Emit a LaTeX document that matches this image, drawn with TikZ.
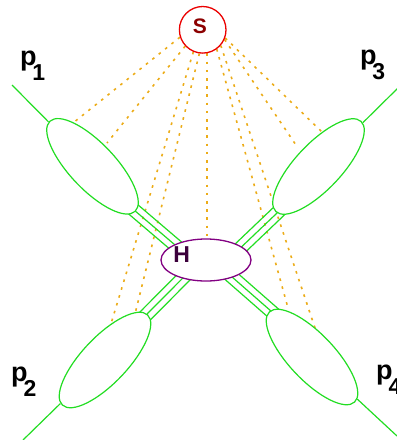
\documentclass[tikz,border=0pt]{standalone}
\usepackage{fontspec}
\setmainfont{Liberation Sans}
\usetikzlibrary{shapes.geometric,calc}
\pgfdeclarelayer{background}
\pgfsetlayers{background,main}
\definecolor{pgreen}{RGB}{34,221,34}
\definecolor{sred}{RGB}{235,0,0}
\definecolor{hpurple}{RGB}{130,0,130}
\definecolor{gorange}{RGB}{236,172,24}
\definecolor{slabel}{RGB}{140,0,0}
\definecolor{hlabel}{RGB}{60,0,60}
\begin{document}
\begin{tikzpicture}[x=1pt,y=-1pt,
 blob/.style={ellipse,draw=pgreen,line width=1.2pt,fill=white,minimum width=124pt,minimum height=46pt,inner sep=0pt},
 gline/.style={draw=pgreen,line width=1.2pt},
 soft/.style={draw=gorange,line width=1.6pt,dash pattern=on 2.6pt off 5.6pt},
 plabel/.style={font=\bfseries\fontsize{27}{27}\selectfont,inner sep=0pt,anchor=base west},
]
\useasboundingbox (0,0) rectangle (397,440);
% blobs
\node[blob,rotate=-46.6] (e1) at (92.5,166.3) {};
\node[blob,rotate=46.6] (e3) at (318.5,166.5) {};
\node[blob,rotate=46.6] (e2) at (105,360) {};
\node[blob,rotate=-46.6] (e4) at (312,357) {};
\node[circle,draw=sred,line width=1.3pt,fill=white,minimum size=46.6pt,inner sep=0pt] (S) at (202.7,29.8) {};
\node[ellipse,draw=hpurple,line width=1.3pt,fill=white,minimum width=90pt,minimum height=42pt,inner sep=0pt] (H) at (206,260) {};
% labels
\node[font=\bfseries\fontsize{21}{21}\selectfont,text=slabel,inner sep=0pt] (Slab) at (200,26) {S};
\node[font=\bfseries\fontsize{23}{23}\selectfont,text=hlabel,inner sep=0pt] (Hlab) at (181.7,255) {H};
\node[plabel] (l1) at (19.8,65.7) {p\kern-4pt\raisebox{-15pt}{\fontsize{23}{23}\selectfont 1}};
\node[plabel] (l2) at (11,381) {p\kern-4pt\raisebox{-15pt}{\fontsize{23}{23}\selectfont 2}};
\node[plabel] (l3) at (359.8,64) {p\kern-4pt\raisebox{-15pt}{\fontsize{23}{23}\selectfont 3}};
\node[plabel] (l4) at (376,379) {p\kern-4pt\raisebox{-15pt}{\fontsize{23}{23}\selectfont 4}};
% coordinates
\coordinate (t1) at (12,85);
\coordinate (t3) at (399,87);
\coordinate (t2) at (23,440);
\coordinate (t4) at (397,436);
\coordinate (d1) at (73,123);
\coordinate (d2) at (107,143);
\coordinate (d3) at (110,327);
\coordinate (d4) at (135,314);
\coordinate (d5) at (288,308);
\coordinate (d6) at (315,328);
\coordinate (d7) at (322,132);
\coordinate (d8) at (298,148);
\coordinate (b1s) at (118.8,197);
\coordinate (b1e) at (195,262);
\coordinate (b3s) at (291.2,199.5);
\coordinate (b3e) at (221.9,265.6);
\coordinate (b2s) at (132.8,328.4);
\coordinate (b2e) at (187.8,273);
\coordinate (b4s) at (212.9,260.2);
\coordinate (b4e) at (286.8,324.9);
\begin{pgfonlayer}{background}
\draw[soft] (S.198) -- (d1);
\draw[soft] (S.223) -- (d2);
\draw[soft] (S.247) -- (d3);
\draw[soft] (S.262) -- (d4);
\draw[soft] (S.280) -- (S.280 |- H.north);
\draw[soft] (S.306) -- (d5);
\draw[soft] (S.319) -- (d6);
\draw[soft] (S.340) -- (d7);
\draw[soft] (S.336) -- (d8);
\foreach \a/\b in {b1s/b1e,b3s/b3e,b2s/b2e,b4s/b4e}{
  \foreach \o in {-6.5,0,6.5}{
    \draw[gline] ($(\a)!\o pt!90:(\b)$) -- ($(\b)!\o pt!-90:(\a)$);
  }
}
\draw[gline] (t1) -- (e1);
\draw[gline] (t3) -- (e3);
\draw[gline] (t2) -- (e2);
\draw[gline] (t4) -- (e4);
\end{pgfonlayer}
\end{tikzpicture}
\end{document}
